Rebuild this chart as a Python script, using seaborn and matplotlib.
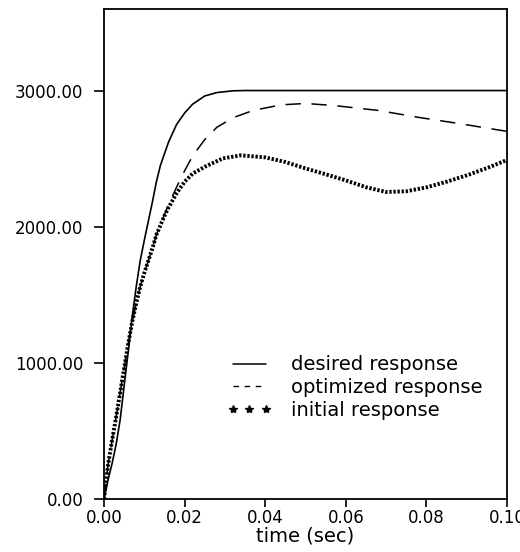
import numpy as np
import pandas as pd
import seaborn as sns
import matplotlib
matplotlib.use('Agg')
import matplotlib.pyplot as plt
from matplotlib.lines import Line2D

# values
t_desired = [0.0, 0.001, 0.002, 0.003, 0.004, 0.005, 0.006, 0.007, 0.008, 0.009,
             0.010, 0.011, 0.012, 0.013, 0.014, 0.016, 0.018, 0.020, 0.022, 0.025,
             0.028, 0.032, 0.035, 0.1]
y_desired = [0, 140, 260, 400, 580, 830, 1080, 1340, 1560, 1753,
             1900, 2040, 2180, 2330, 2450, 2620, 2750, 2835, 2900, 2960,
             2985, 2998, 3000, 3000]

t_optimized = [0.0, 0.001, 0.002, 0.003, 0.004, 0.005, 0.006, 0.007, 0.008, 0.009,
               0.010, 0.011, 0.012, 0.013, 0.014, 0.015, 0.016, 0.018, 0.020, 0.022,
               0.025, 0.028, 0.032, 0.037, 0.044, 0.050, 0.057, 0.068, 0.078, 0.088,
               0.1]
y_optimized = [0, 250, 430, 600, 780, 960, 1140, 1300, 1440, 1560,
               1660, 1750, 1840, 1940, 2010, 2090, 2160, 2290, 2410, 2520,
               2640, 2730, 2800, 2854, 2895, 2905, 2890, 2854, 2803, 2758,
               2700]

t_initial = [0.0, 0.001, 0.002, 0.003, 0.004, 0.005, 0.006, 0.007, 0.008, 0.009,
             0.010, 0.011, 0.012, 0.013, 0.014, 0.015, 0.016, 0.018, 0.020, 0.022,
             0.025, 0.0295, 0.034, 0.040, 0.045, 0.050, 0.055, 0.060, 0.065, 0.070,
             0.075, 0.080, 0.085, 0.090, 0.095, 0.1]
y_initial = [0, 250, 430, 600, 780, 960, 1140, 1300, 1440, 1560,
             1660, 1750, 1840, 1940, 2010, 2080, 2140, 2245, 2330, 2390,
             2440, 2502, 2524, 2509, 2475, 2428, 2385, 2340, 2290, 2255,
             2260, 2289, 2330, 2377, 2430, 2490]

labels = ['desired response', 'optimized response', 'initial response']
x_ticks = [0.0, 0.02, 0.04, 0.06, 0.08, 0.10]
y_ticks = [0, 1000, 2000, 3000]

sns.set_style('white')
plt.rcParams['font.family'] = ['DejaVu Sans']
plt.rcParams['text.color'] = 'black'
plt.rcParams['xtick.color'] = 'black'
plt.rcParams['ytick.color'] = 'black'
plt.rcParams['axes.labelcolor'] = 'black'

fig = plt.figure(figsize=(5.2, 5.52), dpi=100)
ax = fig.add_axes([0.2, 0.096, 0.775, 0.888])

sns.lineplot(x=t_desired, y=y_desired, ax=ax, color='black', lw=1.2,
             estimator=None, sort=False)
sns.lineplot(x=t_optimized, y=y_optimized, ax=ax, color='black', lw=1.1,
             estimator=None, sort=False, linestyle=(0, (10, 7)))
sns.lineplot(x=t_initial, y=y_initial, ax=ax, color='black', lw=2.8,
             estimator=None, sort=False, linestyle=(0, (0.6, 0.45)))

ax.set_xlim(0, 0.1)
ax.set_ylim(0, 3600)
ax.set_xticks(x_ticks)
ax.set_xticklabels(['%.2f' % v for v in x_ticks], fontsize=12)
ax.set_yticks(y_ticks)
ax.set_yticklabels(['%.2f' % v for v in y_ticks], fontsize=12)
ax.tick_params(axis='y', direction='out', length=7, width=1.2, pad=8, left=True)
ax.tick_params(axis='x', direction='out', length=6, width=1.2, pad=1, bottom=True)
ax.set_xlabel('time (sec)', fontsize=14, labelpad=0)
ax.set_ylabel('')
for s in ax.spines.values():
    s.set_visible(True)
    s.set_color('black')
    s.set_linewidth(1.3)

handles = [Line2D([], [], color='black', lw=1.1),
           Line2D([], [], color='black', lw=1.0, linestyle=(0, (4, 4))),
           Line2D([], [], color='black', ls='none', marker='*', markersize=6)]
ax.legend(handles, labels, loc='center left', bbox_to_anchor=(0.305, 0.227),
          frameon=False, fontsize=14, numpoints=3, handlelength=2.3,
          handletextpad=1.0, labelspacing=0.2, borderpad=0, borderaxespad=0)

fig.savefig('out.png', dpi=100)
